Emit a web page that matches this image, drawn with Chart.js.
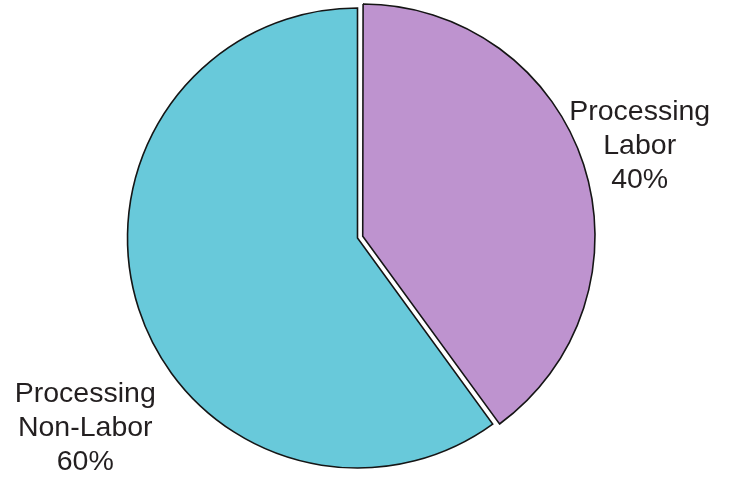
<!DOCTYPE html>
<html>
<head>
<meta charset="utf-8">
<script src="https://cdn.jsdelivr.net/npm/chart.js@4/dist/chart.umd.min.js"></script>
<style>
  html, body { margin: 0; padding: 0; background: #ffffff; }
  #wrap { width: 730px; height: 481px; position: relative; }
</style>
</head>
<body>
<div id="wrap"><canvas id="c"></canvas></div>
<script>
// ---- data ----
const categories = ["Processing Labor", "Processing Non-Labor"];
const labelLines = [["Processing", "Labor"], ["Processing", "Non-Labor"]];
const shares = [40, 60];

// ---- styling / placement (not data) ----
const sliceColors = ["#BE93CF", "#68C9DA"];
const sliceOffsets = [22, 0];   // Chart.js v4 draws offset/4 px -> 5.5px explode
const labelPlacement = [
  { angle: 72, dist: 1.29 },
  { angle: 235, dist: 1.445 }
];

const labelPlugin = {
  id: 'outerLabels',
  afterDatasetsDraw(chart) {
    const meta = chart.getDatasetMeta(0);
    const ctx = chart.ctx;
    ctx.save();
    ctx.font = '28.5px "Liberation Sans", Arial, sans-serif';
    ctx.fillStyle = '#231f20';
    ctx.textAlign = 'center';
    ctx.textBaseline = 'middle';
    const lineH = 34;
    meta.data.forEach((arc, i) => {
      const p = labelPlacement[i];
      const a = (p.angle - 90) * Math.PI / 180;
      const cx = arc.x + Math.cos(a) * arc.outerRadius * p.dist;
      const cy = arc.y + Math.sin(a) * arc.outerRadius * p.dist;
      const lines = labelLines[i].concat([shares[i] + '%']);
      const startY = cy - (lines.length - 1) * lineH / 2;
      lines.forEach((t, k) => ctx.fillText(t, cx, startY + k * lineH));
    });
    ctx.restore();
  }
};

new Chart(document.getElementById('c'), {
  type: 'pie',
  data: {
    labels: categories,
    datasets: [{
      data: shares,
      backgroundColor: sliceColors,
      borderColor: '#151515',
      borderWidth: 1.6,
      borderJoinStyle: 'miter',
      offset: sliceOffsets
    }]
  },
  options: {
    responsive: true,
    maintainAspectRatio: false,
    animation: false,
    radius: 230,
    layout: { padding: { left: 0, right: 15, top: 0, bottom: 5 } },
    plugins: {
      legend: { display: false },
      tooltip: { enabled: false }
    }
  },
  plugins: [labelPlugin]
});
</script>
</body>
</html>
